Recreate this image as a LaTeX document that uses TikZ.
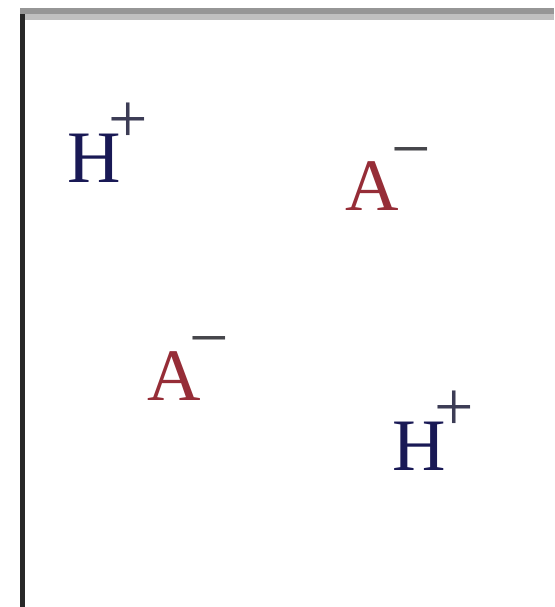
\documentclass[tikz,border=0pt]{standalone}
\usepackage{fontspec}
\setmainfont{Liberation Serif}
\definecolor{hcol}{RGB}{25,25,85}
\definecolor{acol}{RGB}{150,45,55}
\definecolor{pcol}{RGB}{60,60,85}
\definecolor{mcol}{RGB}{70,70,75}
\definecolor{topdark}{RGB}{150,150,150}
\definecolor{toplight}{RGB}{192,192,192}
\definecolor{leftcol}{RGB}{40,40,40}
\newcommand{\ionsign}[4]{\rlap{\kern#1pt\raisebox{#2pt}{\fontsize{70}{70}\selectfont\color{#3}#4}}}
\begin{document}
\begin{tikzpicture}[x=1pt,y=-1pt,
  ion/.style={inner sep=0pt,anchor=base,font=\fontsize{74}{74}\selectfont},
  hion/.style={ion,text=hcol},
  aion/.style={ion,text=acol}]
\useasboundingbox (0,0) rectangle (554,607);
\fill[white] (0,0) rectangle (554,607);
% frame
\fill[topdark] (20,8) rectangle (554,14);
\fill[toplight] (25,14) rectangle (554,20);
\fill[leftcol] (20,14) rectangle (25,607);
% ions
\node[hion] (h1) at (94,182) {H\ionsign{-12}{40}{pcol}{+}};
\node[aion] (a1) at (372,210) {A\ionsign{-7}{38}{mcol}{−}};
\node[aion] (a2) at (174,400) {A\ionsign{-11}{39}{mcol}{−}};
\node[hion] (h2) at (419,470) {H\ionsign{-11}{40}{pcol}{+}};
\end{tikzpicture}
\end{document}
